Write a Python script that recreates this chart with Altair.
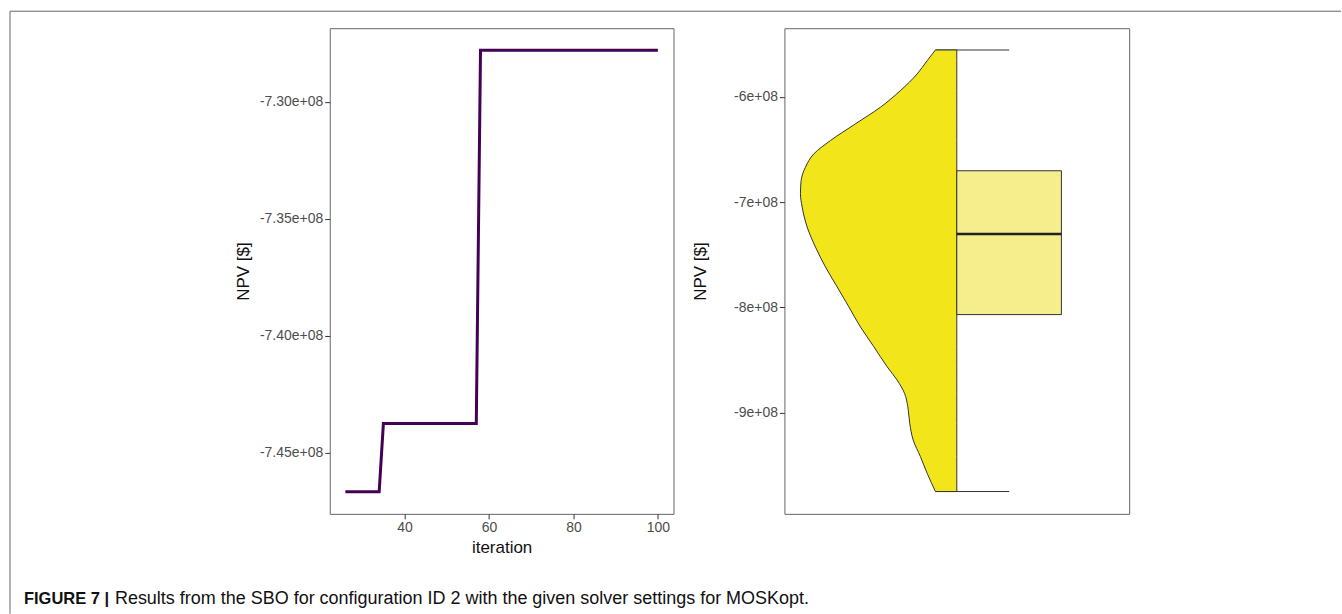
import altair as alt
import pandas as pd

# ---------------- data ----------------
# Left panel: best NPV found so far vs. iteration (breakpoints of the step curve)
iteration = [26, 34, 35, 57, 58, 100]
best_npv = [-7.4668e8, -7.4668e8, -7.4376e8, -7.4376e8, -7.278e8, -7.278e8]

# Right panel: half-violin outline (NPV value, half-width of density)
violin_npv = [-5.554e8, -5.656e8, -5.782e8, -5.940e8, -6.098e8, -6.256e8, -6.415e8,
              -6.541e8, -6.668e8, -6.794e8, -6.921e8, -7.047e8, -7.237e8, -7.427e8,
              -7.616e8, -7.806e8, -7.996e8, -8.186e8, -8.375e8, -8.565e8, -8.692e8,
              -8.818e8, -8.945e8, -9.103e8, -9.261e8, -9.419e8, -9.577e8, -9.751e8]
violin_width = [0.124, 0.172, 0.230, 0.327, 0.443, 0.588, 0.733,
                0.829, 0.878, 0.903, 0.907, 0.897, 0.868, 0.820,
                0.762, 0.694, 0.626, 0.559, 0.481, 0.404, 0.346,
                0.303, 0.284, 0.273, 0.253, 0.211, 0.172, 0.124]

# Box plot statistics
box_q1 = [-8.069e8]
box_median = [-7.304e8]
box_q3 = [-6.702e8]
whisker_ends = [-9.751e8, -5.554e8]

# Tick values
left_x_ticks = [40, 60, 80, 100]
left_y_ticks = [-7.45e8, -7.40e8, -7.35e8, -7.30e8]
right_y_ticks = [-9e8, -8e8, -7e8, -6e8]

caption_bold = "FIGURE 7 |"
caption_text = "Results from the SBO for configuration ID 2 with the given solver settings for MOSKopt."

# ---------------- layout / style constants ----------------
W, H = 344, 486
LABEL_COLOR = "#4D4D4D"
TICK_COLOR = "#333333"
FONT = "Liberation Sans"
LINE_COLOR = "#440154"
VIOLIN_FILL = "#F2E61A"
BOX_FILL = "#F6EE8C"
OUTLINE = "#333333"
BOX_X0, BOX_X1 = 0.0, 0.607
CAP_X0, CAP_X1 = -0.124, 0.304

one = pd.DataFrame({"k": [0]})

def ylab(fmt):
    return "replace('-' + format(abs(datum.value), '" + fmt + "'), 'e+', 'e+0')"

# ---------------- left panel ----------------
df_line = pd.DataFrame({"iteration": iteration, "npv": best_npv})

x_left = alt.X(
    "iteration:Q",
    scale=alt.Scale(domain=[22.3, 103.7], nice=False, zero=False),
    axis=alt.Axis(values=left_x_ticks, title="iteration", titleBaseline="middle",
                  titleY=34, titleX=W / 2),
)
y_left = alt.Y(
    "npv:Q",
    scale=alt.Scale(domain=[-7.4762e8, -7.2686e8], nice=False, zero=False),
    axis=alt.Axis(values=left_y_ticks, labelExpr=ylab(".2e"), title="NPV [$]",
                  titleBaseline="middle", titleX=-86, titleY=H / 2),
)

line = alt.Chart(df_line).mark_line(color=LINE_COLOR, strokeWidth=3).encode(x=x_left, y=y_left)

frame_top = alt.Chart(one).mark_rule(color="#666666", strokeWidth=1).encode(
    x=alt.value(-320), x2=alt.value(1012), y=alt.value(-17))
frame_left = alt.Chart(one).mark_rule(color="#666666", strokeWidth=1).encode(
    x=alt.value(-320), y=alt.value(-17), y2=alt.value(586))

cap_b = alt.Chart(one).mark_text(
    text=caption_bold, font=FONT, fontWeight="bold",
    fontSize=16.5, align="left", baseline="middle", color="#111111"
).encode(x=alt.value(-306), y=alt.value(571))
cap_r = alt.Chart(one).mark_text(
    text=caption_text, font=FONT, fontSize=18, align="left", baseline="middle",
    color="#111111"
).encode(x=alt.value(-215), y=alt.value(571))

left = alt.layer(frame_top, frame_left, line, cap_b, cap_r).properties(width=W, height=H)

# ---------------- right panel ----------------
df_violin = pd.DataFrame({"npv": violin_npv, "width": violin_width})
df_box = pd.DataFrame({"q1": box_q1, "median": box_median, "q3": box_q3})
df_caps = pd.DataFrame({"v": whisker_ends})

x_scale_r = alt.Scale(domain=[-1, 1], nice=False, zero=False)
y_scale_r = alt.Scale(domain=[-9.963e8, -5.347e8], nice=False, zero=False)
y_axis_r = alt.Axis(values=right_y_ticks, labelExpr=ylab(".0e"), title="NPV [$]",
                    titleBaseline="middle", titleX=-84, titleY=H / 2)

caps = alt.Chart(df_caps).mark_rule(color=OUTLINE, strokeWidth=1).encode(
    x=alt.datum(CAP_X0, scale=x_scale_r, axis=None), x2=alt.datum(CAP_X1),
    y=alt.Y("v:Q", scale=y_scale_r, axis=y_axis_r))

violin = alt.Chart(df_violin).transform_calculate(neg="-datum.width").mark_area(
    fill=VIOLIN_FILL, stroke=OUTLINE, strokeWidth=1, orient="horizontal",
    interpolate="monotone", opacity=1
).encode(
    y=alt.Y("npv:Q", scale=y_scale_r, axis=y_axis_r),
    x=alt.X("neg:Q", scale=x_scale_r, axis=None),
    x2=alt.datum(0),
)

box = alt.Chart(df_box).mark_rect(fill=BOX_FILL, stroke=OUTLINE, strokeWidth=1).encode(
    x=alt.datum(BOX_X0), x2=alt.datum(BOX_X1),
    y=alt.Y("q3:Q", scale=y_scale_r, axis=y_axis_r), y2="q1:Q")

med = alt.Chart(df_box).mark_rule(color="#222222", strokeWidth=2.5).encode(
    x=alt.datum(BOX_X0), x2=alt.datum(BOX_X1),
    y=alt.Y("median:Q", scale=y_scale_r, axis=y_axis_r))

right = alt.layer(caps, violin, box, med).properties(width=W + 1, height=H)

chart = alt.hconcat(left, right, spacing=111, bounds="flush").properties(
    padding={"left": 9, "top": 10, "right": 0, "bottom": 0},
    background="white",
).configure_view(
    stroke="#666666", strokeWidth=1
).configure_axis(
    grid=False, domain=False, tickColor=TICK_COLOR, tickSize=5, labelPadding=2,
    labelColor=LABEL_COLOR, labelFontSize=14, labelFont=FONT,
    titleFont=FONT, titleFontSize=17, titleFontWeight="normal", titleColor="#111111",
)

chart.save("out.html", embed_options={"renderer": "svg", "actions": False})
